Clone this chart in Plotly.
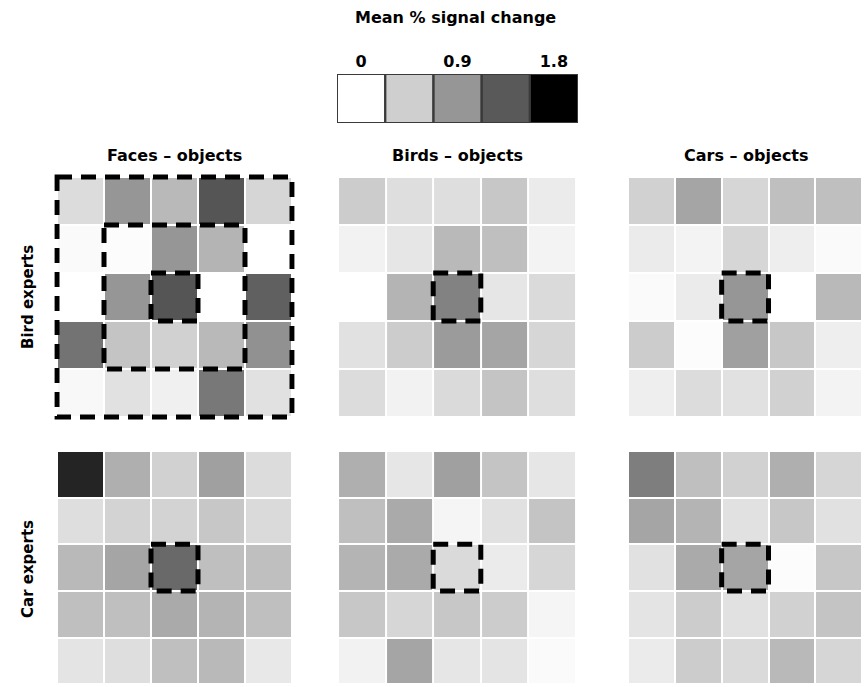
import plotly.graph_objects as go

W, H = 865, 687

col_titles = ["Faces – objects", "Birds – objects", "Cars – objects"]
row_titles = ["Bird experts", "Car experts"]

# Mean % signal change, 5 x 5 voxel grid, top row first
bird_faces = [
    [0.33, 0.90, 0.62, 1.37, 0.38],
    [0.05, 0.03, 0.90, 0.66, 0.00],
    [0.00, 0.90, 1.37, 0.00, 1.30],
    [1.16, 0.54, 0.43, 0.62, 0.94],
    [0.07, 0.28, 0.14, 1.12, 0.28],
]
bird_birds = [
    [0.47, 0.31, 0.31, 0.51, 0.19],
    [0.12, 0.23, 0.62, 0.58, 0.11],
    [0.00, 0.66, 1.05, 0.23, 0.35],
    [0.28, 0.47, 0.86, 0.78, 0.38],
    [0.33, 0.12, 0.35, 0.54, 0.31],
]
bird_cars = [
    [0.43, 0.78, 0.38, 0.58, 0.58],
    [0.19, 0.11, 0.38, 0.16, 0.05],
    [0.05, 0.19, 0.90, 0.00, 0.62],
    [0.47, 0.03, 0.82, 0.51, 0.16],
    [0.16, 0.33, 0.28, 0.43, 0.11],
]
car_faces = [
    [1.62, 0.70, 0.43, 0.82, 0.33],
    [0.31, 0.41, 0.41, 0.51, 0.35],
    [0.62, 0.78, 1.23, 0.58, 0.58],
    [0.58, 0.58, 0.74, 0.66, 0.58],
    [0.25, 0.31, 0.58, 0.62, 0.22],
]
car_birds = [
    [0.70, 0.23, 0.82, 0.54, 0.23],
    [0.58, 0.74, 0.09, 0.28, 0.54],
    [0.66, 0.74, 0.35, 0.19, 0.38],
    [0.51, 0.38, 0.51, 0.47, 0.09],
    [0.12, 0.78, 0.23, 0.25, 0.05],
]
car_cars = [
    [1.08, 0.58, 0.43, 0.70, 0.38],
    [0.78, 0.66, 0.28, 0.51, 0.28],
    [0.28, 0.74, 0.78, 0.03, 0.51],
    [0.25, 0.47, 0.28, 0.43, 0.54],
    [0.19, 0.47, 0.35, 0.62, 0.38],
]

legend_levels = [0, 0.45, 0.9, 1.35, 1.8]
legend_ticks = [0, 0.9, 1.8]

panels = [[bird_faces, bird_birds, bird_cars],
          [car_faces, car_birds, car_cars]]

ZMAX = 1.8
gray_scale = [[0.0, "#ffffff"], [0.25, "#cfcfcf"], [0.5, "#969696"],
              [0.75, "#595959"], [1.0, "#000000"]]

FONT = "DejaVu Sans"

# cell-grid placement in pixels
col_px = [(57, 292), (338, 576), (628, 864)]
row_px = [(177, 417), (451, 687)]
PAD = 0.06  # extra axis room (in cells) so edge outlines are not clipped


def xdom(a, b):
    return [max(a / W, 0), min(b / W, 1)]


def ydom(top, bottom):
    return [max(1 - bottom / H, 0), min(1 - top / H, 1)]


def bold(size):
    return dict(family=FONT, size=size, color="black", weight="bold")


fig = go.Figure()
layout_axes = {}
shapes = []
dash_line = dict(color="black", width=5, dash="15px,9px")

k = 0
for r, row in enumerate(panels):
    for c, z in enumerate(row):
        k += 1
        xa = "x" if k == 1 else f"x{k}"
        ya = "y" if k == 1 else f"y{k}"
        n = len(z)
        fig.add_trace(go.Heatmap(
            z=z, x=list(range(n)), y=list(range(n)),
            colorscale=gray_scale, zmin=0, zmax=ZMAX, showscale=False,
            xgap=2, ygap=2, xaxis=xa, yaxis=ya, hoverinfo="z",
        ))
        x0, x1 = col_px[c]
        y0, y1 = row_px[r]
        px_x = (x1 - x0) / n * PAD
        px_y = (y1 - y0) / n * PAD
        key = "" if k == 1 else str(k)
        layout_axes[f"xaxis{key}"] = dict(
            domain=xdom(x0 - px_x, x1 + px_x),
            range=[-0.5 - PAD, n - 0.5 + PAD], visible=False,
            anchor=ya, fixedrange=True)
        layout_axes[f"yaxis{key}"] = dict(
            domain=ydom(y0 - px_y, y1 + px_y),
            range=[n - 0.5 + PAD, -0.5 - PAD], visible=False,
            anchor=xa, fixedrange=True)
        # region-of-interest outlines
        boxes = [(1.5, 2.5)]
        if r == 0 and c == 0:
            boxes = [(-0.5, n - 0.5), (0.5, 3.5), (1.5, 2.5)]
        for lo, hi in boxes:
            shapes.append(dict(type="rect", xref=xa, yref=ya,
                               x0=lo, x1=hi, y0=lo, y1=hi,
                               line=dash_line, fillcolor="rgba(0,0,0,0)"))

# discrete legend strip
k += 1
lx, ly = f"x{k}", f"y{k}"
fig.add_trace(go.Heatmap(
    z=[legend_levels], x=list(range(len(legend_levels))), y=[0],
    colorscale=gray_scale, zmin=0, zmax=ZMAX, showscale=False,
    xaxis=lx, yaxis=ly, hoverinfo="z",
))
layout_axes[f"xaxis{k}"] = dict(
    domain=xdom(337, 578), range=[-0.5, len(legend_levels) - 0.5],
    side="top", anchor=ly, showgrid=False, zeroline=False, showline=False,
    ticks="", tickvals=[legend_levels.index(v) for v in legend_ticks],
    ticktext=[f"{v:g}" for v in legend_ticks], ticklabelstandoff=3,
    tickfont=bold(16), fixedrange=True)
layout_axes[f"yaxis{k}"] = dict(
    domain=ydom(74, 123), range=[-0.5, 0.5], visible=False, anchor=lx,
    fixedrange=True)
for i in range(len(legend_levels)):
    shapes.append(dict(type="rect", xref=lx, yref=ly,
                       x0=i - 0.5, x1=i + 0.5, y0=-0.5, y1=0.5,
                       line=dict(color="#3a3a3a", width=2),
                       fillcolor="rgba(0,0,0,0)"))

annotations = [dict(text="Mean % signal change", x=455 / W, y=1 - 18 / H,
                    xref="paper", yref="paper", showarrow=False,
                    xanchor="center", yanchor="middle", font=bold(16))]
for c, t in enumerate(col_titles):
    a, b = col_px[c]
    annotations.append(dict(text=t, x=(a + b) / 2 / W, y=1 - 155 / H,
                            xref="paper", yref="paper", showarrow=False,
                            xanchor="center", yanchor="middle",
                            font=bold(16)))
for r, t in enumerate(row_titles):
    top, bot = row_px[r]
    annotations.append(dict(text=t, x=28 / W, y=1 - (top + bot) / 2 / H,
                            xref="paper", yref="paper", showarrow=False,
                            textangle=-90, xanchor="center",
                            yanchor="middle", font=bold(15)))

fig.update_layout(
    width=W, height=H, margin=dict(l=0, r=0, t=0, b=0),
    paper_bgcolor="white", plot_bgcolor="white",
    shapes=shapes, annotations=annotations, showlegend=False,
    **layout_axes,
)

fig.write_html("out.html")
